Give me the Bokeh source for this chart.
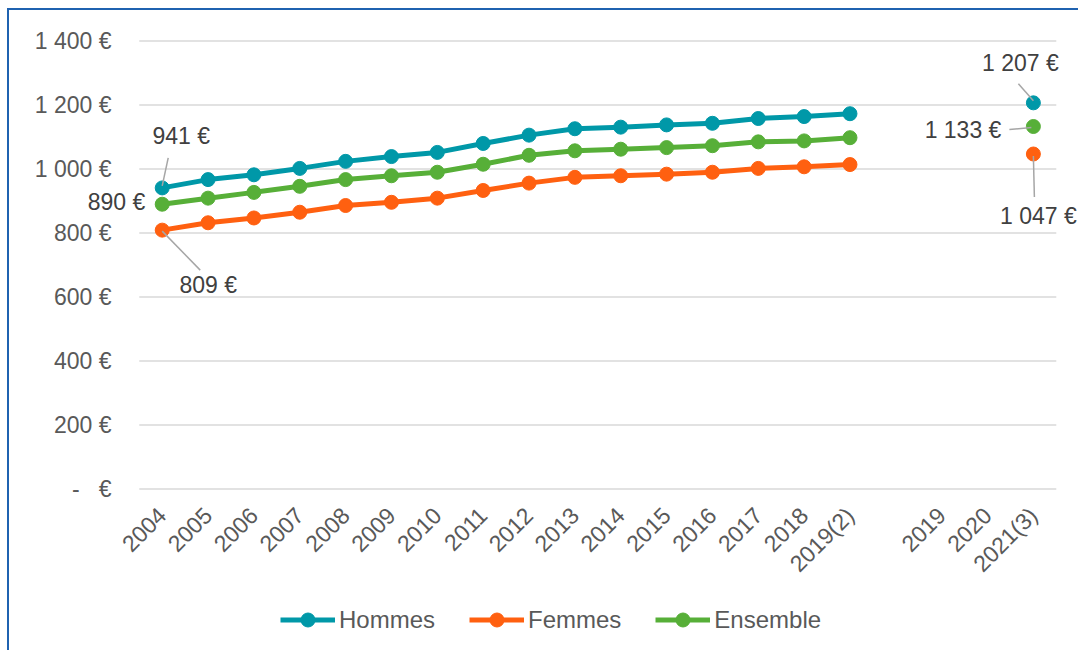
import math
from bokeh.plotting import figure
from bokeh.layouts import column
from bokeh.models import Range1d, FixedTicker, Legend, LegendItem
from bokeh.core.properties import value
from bokeh.embed import file_html
from bokeh.resources import INLINE

nan = float("nan")

# Categories on the x axis (the empty one is a spacer before the 2019-2021 block)
categories = ["2004", "2005", "2006", "2007", "2008", "2009", "2010", "2011",
              "2012", "2013", "2014", "2015", "2016", "2017", "2018", "2019(2)",
              "", "2019", "2020", "2021(3)"]

# Monthly amounts in euros
hommes = [941, 967, 982, 1002, 1024, 1039, 1052, 1080, 1106, 1126, 1131, 1138,
          1143, 1158, 1164, 1173, nan, nan, nan, 1207]
femmes = [809, 832, 847, 865, 886, 896, 909, 933, 956, 974, 979, 984,
          990, 1002, 1007, 1014, nan, nan, nan, 1047]
ensemble = [890, 909, 927, 946, 967, 979, 990, 1015, 1043, 1057, 1062, 1067,
            1073, 1085, 1088, 1098, nan, nan, nan, 1133]

y_ticks = [0, 200, 400, 600, 800, 1000, 1200, 1400]

FONT = "Liberation Sans"
FONT_SIZE = "23px"
LEGEND_FONT_SIZE = "24px"
TICK_COLOR = "#595959"
LABEL_COLOR = "#404040"
GRID_COLOR = "#D9D9D9"
LEADER_COLOR = "#A6A6A6"
BORDER = "2px solid #1F62B0"
COLORS = {"Hommes": "#0098A8", "Femmes": "#FF6010", "Ensemble": "#57AF38"}

PX_PER_CAT = 45.85      # horizontal pixels per category
PX_PER_EUR = 0.32       # vertical pixels per euro
EXTRA_LEFT = 1.173      # room (in categories) left of the first band for labels
EXTRA_RIGHT = 0.484     # room right of the last band


def eur(v):
    if v == 0:
        return "-\u00a0\u00a0\u00a0€"
    return f"{int(v):,}".replace(",", " ") + " €"


xs = list(range(len(categories)))
x_lo, x_hi = -0.5, len(categories) - 0.5

p = figure(width=1069, height=585, output_backend="svg", toolbar_location=None,
           x_range=Range1d(x_lo - EXTRA_LEFT, x_hi + EXTRA_RIGHT),
           y_range=Range1d(-5, 1405),
           min_border_left=76, min_border_right=0, min_border_top=29,
           min_border_bottom=105)
p.outline_line_color = None
p.background_fill_color = "white"
p.border_fill_color = "white"

# Axes
p.xaxis.ticker = FixedTicker(ticks=xs)
p.xaxis.major_label_overrides = {i: c for i, c in zip(xs, categories)}
p.xaxis.major_label_orientation = math.pi / 4
p.yaxis.ticker = FixedTicker(ticks=y_ticks)
p.yaxis.major_label_overrides = {t: eur(t) for t in y_ticks}
for ax in (p.xaxis, p.yaxis):
    ax.axis_line_color = None
    ax.major_tick_line_color = None
    ax.minor_tick_line_color = None
    ax.major_tick_out = 0
    ax.major_tick_in = 0
    ax.minor_tick_out = 0
    ax.major_label_text_font = FONT
    ax.major_label_text_font_size = FONT_SIZE
    ax.major_label_text_color = TICK_COLOR
p.yaxis.major_label_standoff = -26
p.xaxis.major_label_standoff = 21

# Horizontal gridlines spanning the category bands only
p.xgrid.grid_line_color = None
p.ygrid.grid_line_color = None
p.segment(x0=[x_lo] * len(y_ticks), y0=y_ticks, x1=[x_hi] * len(y_ticks), y1=y_ticks,
          line_color=GRID_COLOR, line_width=1.5, level="underlay")

series = [("Hommes", hommes), ("Femmes", femmes), ("Ensemble", ensemble)]
for name, vals in series:
    c = COLORS[name]
    p.line(xs, vals, line_color=c, line_width=5)
    p.scatter(xs, vals, size=14, fill_color=c, line_color=c)

# Leader lines from labels to their points: (values, index, start px, end px)
leaders = [
    (hommes, 0, (6, -30), (0, -2)),
    (femmes, 0, (0, 1), (38, 40)),
    (hommes, 19, (-15, -19), (0, -2)),
    (ensemble, 19, (-24, 3), (-2, 1)),
    (femmes, 19, (0, 2), (1, 43)),
]
x0s, y0s, x1s, y1s = [], [], [], []
for vals, i, (ax_, ay_), (bx_, by_) in leaders:
    x0s.append(xs[i] + ax_ / PX_PER_CAT)
    y0s.append(vals[i] - ay_ / PX_PER_EUR)
    x1s.append(xs[i] + bx_ / PX_PER_CAT)
    y1s.append(vals[i] - by_ / PX_PER_EUR)
p.segment(x0=x0s, y0=y0s, x1=x1s, y1=y1s, line_color=LEADER_COLOR, line_width=1.5)

# Data labels: (values, index, x offset, y offset downwards, alignment)
labels = [
    (hommes, 0, 19, -52, "center"),
    (ensemble, 0, -17, -2, "right"),
    (femmes, 0, 46, 55, "center"),
    (hommes, 19, -13, -40, "center"),
    (ensemble, 19, -32, 3, "right"),
    (femmes, 19, 5, 62, "center"),
]
for vals, i, dx, dy, align in labels:
    p.text(x=[xs[i]], y=[vals[i]], text=[eur(vals[i])], x_offset=dx, y_offset=dy,
           text_align=align, text_baseline="middle",
           text_font=value(FONT), text_font_size=FONT_SIZE, text_color=LABEL_COLOR)

# Legend strip below the chart; its renderers carry the series but their
# values fall outside this strip's 0..1 ranges, so only the legend shows.
lg = figure(width=1069, height=55, output_backend="svg", toolbar_location=None,
            x_range=Range1d(0, 1), y_range=Range1d(0, 1),
            x_axis_location=None, y_axis_location=None, min_border=0)
lg.outline_line_color = None
lg.xgrid.grid_line_color = None
lg.ygrid.grid_line_color = None
items = []
for name, vals in series:
    c = COLORS[name]
    ln = lg.line(xs, vals, line_color=c, line_width=5)
    sc = lg.scatter(xs, vals, size=14, fill_color=c, line_color=c)
    items.append(LegendItem(label=name, renderers=[ln, sc]))
legend = Legend(items=items, orientation="horizontal", location=(195, 13),
                label_text_font=FONT, label_text_font_size=LEGEND_FONT_SIZE,
                label_text_color=TICK_COLOR, glyph_width=55, glyph_height=35,
                spacing=34, label_standoff=4, padding=0, margin=0,
                border_line_color=None, background_fill_alpha=0)
lg.add_layout(legend)

page = column(p, lg, spacing=0,
              styles={"margin-left": "7px", "margin-top": "8px",
                      "border-left": BORDER, "border-top": BORDER,
                      "box-sizing": "content-box"})

open("out.html", "w").write(file_html(page, INLINE))
